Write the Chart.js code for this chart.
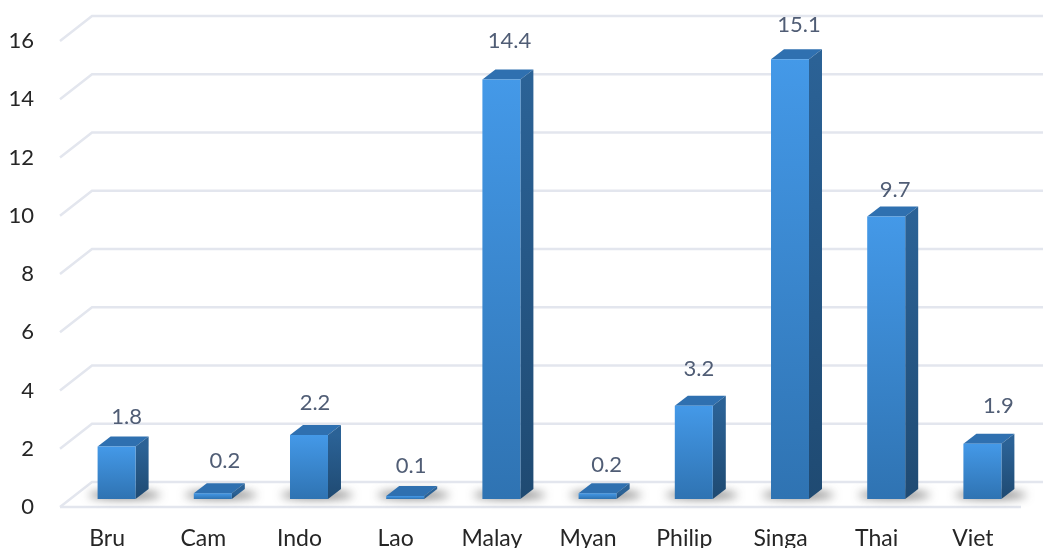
<!DOCTYPE html>
<html lang="en">
<head>
    <meta charset="UTF-8">
    <title>Bar chart</title>
    <style>
        html, body { margin: 0; padding: 0; background: #fff; overflow: hidden; }
        canvas { display: block; }
    </style>
</head>
<body>
    <canvas id="myChart" width="1043" height="548"></canvas>

    <script src="https://cdn.jsdelivr.net/npm/chart.js@4/dist/chart.umd.min.js"></script>
    <script>
        const countries = ["Bru", "Cam", "Indo", "Lao", "Malay", "Myan", "Philip", "Singa", "Thai", "Viet"];
        const values = [1.8, 0.2, 2.2, 0.1, 14.4, 0.2, 3.2, 15.1, 9.7, 1.9];
        const yMax = 16;
        const yStep = 2;

        // hand placed value labels, relative to the top of each bar
        const labelShiftX = [0, 2, -4, -4, -2, -1, -5, -1, -1, 6];
        const labelShiftY = [0, -2, -2, 0, -9, 2, -7, -4, 3, -8];

        // depth of the floor and of the bars
        const floorDepth = { x: 33, y: -25 };
        const barDepth = { x: 13, y: -10 };
        const barShift = { x: 9.5, y: -8 };

        function faceGradient(ctx, top, bottom, from, to) {
            const g = ctx.createLinearGradient(0, top, 0, bottom);
            g.addColorStop(0, from);
            g.addColorStop(1, to);
            return g;
        }

        const walls = {
            id: 'walls',
            beforeDatasetsDraw(chart) {
                const { ctx, scales: { x, y } } = chart;
                const rightBack = chart.width + 2;
                ctx.save();
                ctx.strokeStyle = '#e3e6ee';
                ctx.lineWidth = 2.5;
                y.ticks.forEach(t => {
                    const py = y.getPixelForValue(t.value);
                    ctx.beginPath();
                    ctx.moveTo(x.left + 1, py);
                    ctx.lineTo(x.left + floorDepth.x, py + floorDepth.y);
                    ctx.lineTo(rightBack, py + floorDepth.y);
                    ctx.stroke();
                });
                const py0 = y.getPixelForValue(0);
                ctx.beginPath();
                ctx.moveTo(x.left + 1, py0);
                ctx.lineTo(x.right, py0);
                ctx.stroke();
                ctx.restore();
            }
        };

        const bars3d = {
            id: 'bars3d',
            beforeDatasetDraw(chart, args) {
                const ctx = chart.ctx;
                const meta = args.meta;
                ctx.save();
                ctx.translate(barShift.x, barShift.y);

                // soft floor shadows first so they stay behind every bar
                meta.data.forEach(bar => {
                    ctx.save();
                    ctx.filter = 'blur(5px)';
                    ctx.fillStyle = 'rgba(55, 55, 55, 0.65)';
                    ctx.beginPath();
                    ctx.ellipse(bar.x + 8, bar.base - 4, bar.width * 0.95, 4, 0, 0, Math.PI * 2);
                    ctx.fill();
                    ctx.restore();
                });

                meta.data.forEach(bar => {
                    const l = bar.x - bar.width / 2;
                    const r = bar.x + bar.width / 2;
                    // top face
                    ctx.fillStyle = '#2f70b0';
                    ctx.beginPath();
                    ctx.moveTo(l, bar.y);
                    ctx.lineTo(l + barDepth.x, bar.y + barDepth.y);
                    ctx.lineTo(r + barDepth.x, bar.y + barDepth.y);
                    ctx.lineTo(r, bar.y);
                    ctx.closePath();
                    ctx.fill();
                    // side face
                    ctx.fillStyle = faceGradient(ctx, bar.y, bar.base, '#2b6296', '#1f4a72');
                    ctx.beginPath();
                    ctx.moveTo(r, bar.y);
                    ctx.lineTo(r + barDepth.x, bar.y + barDepth.y);
                    ctx.lineTo(r + barDepth.x, bar.base + barDepth.y);
                    ctx.lineTo(r, bar.base);
                    ctx.closePath();
                    ctx.fill();
                });
            },
            afterDatasetDraw(chart) {
                chart.ctx.restore();
            },
            afterDatasetsDraw(chart) {
                const ctx = chart.ctx;
                const meta = chart.getDatasetMeta(0);
                ctx.save();
                ctx.fillStyle = '#505d75';
                ctx.font = '22px Lato';
                ctx.textAlign = 'center';
                ctx.textBaseline = 'middle';
                meta.data.forEach((bar, i) => {
                    const tx = bar.x + barShift.x + 10 + labelShiftX[i];
                    const ty = bar.y + barShift.y - 30 + labelShiftY[i];
                    ctx.fillText(values[i].toFixed(1), tx, ty);
                });
                ctx.restore();
            }
        };

        new Chart(document.getElementById('myChart').getContext('2d'), {
            type: 'bar',
            data: {
                labels: countries,
                datasets: [{
                    data: values,
                    clip: false,
                    barPercentage: 0.395,
                    categoryPercentage: 1,
                    backgroundColor: c => {
                        const y = c.chart.scales.y;
                        const top = y ? y.getPixelForValue(c.raw) : NaN;
                        if (!Number.isFinite(top)) return '#3c86d0';
                        return faceGradient(c.chart.ctx, top, y.getPixelForValue(0), '#4499e8', '#2f73b2');
                    }
                }]
            },
            options: {
                responsive: false,
                animation: false,
                layout: { padding: { top: 41, right: 22, left: 0, bottom: 0 } },
                plugins: { legend: { display: false }, tooltip: { enabled: false } },
                scales: {
                    x: {
                        afterFit: s => { s.height = 41; },
                        grid: { display: false },
                        border: { display: false },
                        ticks: { color: '#262626', padding: 10, font: { family: 'Lato', size: 23 }, maxRotation: 0 }
                    },
                    y: {
                        min: 0,
                        max: yMax,
                        afterFit: s => { s.width = 59; },
                        grid: { display: false },
                        border: { display: false },
                        ticks: { color: '#262626', stepSize: yStep, padding: 17, font: { family: 'Lato', size: 22 } }
                    }
                }
            },
            plugins: [walls, bars3d]
        });
    </script>
</body>
</html>
